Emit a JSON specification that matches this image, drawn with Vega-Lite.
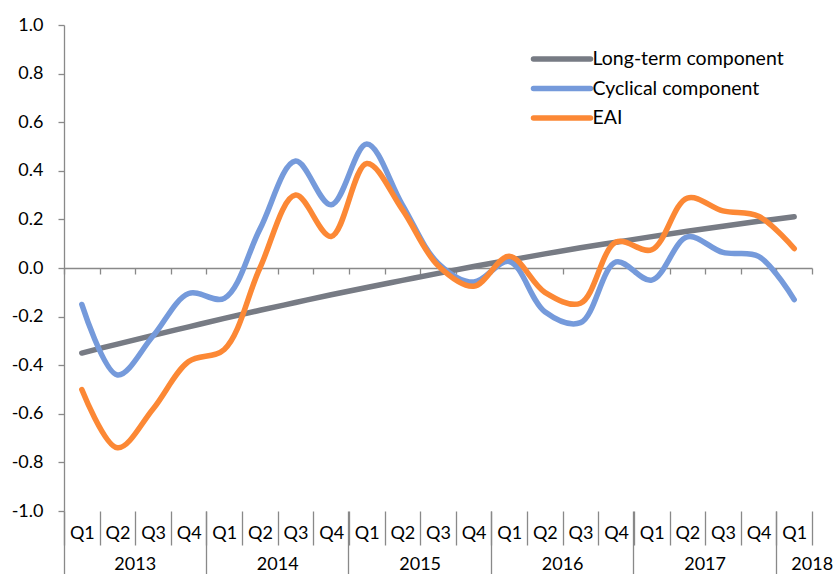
{
  "$schema": "https://vega.github.io/schema/vega-lite/v6.json",
  "width": 748,
  "height": 486,
  "autosize": {"type": "none"},
  "padding": {"left": 64, "top": 25, "right": 23, "bottom": 63},
  "background": "white",
  "config": {
    "view": {"stroke": null},
    "font": "Lato",
    "axis": {"labelFont": "Lato", "labelFontSize": 18, "labelColor": "#000000", "domainColor": "#898989", "tickColor": "#898989", "domainWidth": 1.3, "tickWidth": 1.3, "grid": false, "title": null, "labelAngle": 0}
  },
  "data": {
    "values": [
      {"quarter": "2013 Q1", "series": "Long-term component", "value": -0.350},
      {"quarter": "2013 Q2", "series": "Long-term component", "value": -0.313},
      {"quarter": "2013 Q3", "series": "Long-term component", "value": -0.277},
      {"quarter": "2013 Q4", "series": "Long-term component", "value": -0.242},
      {"quarter": "2014 Q1", "series": "Long-term component", "value": -0.207},
      {"quarter": "2014 Q2", "series": "Long-term component", "value": -0.174},
      {"quarter": "2014 Q3", "series": "Long-term component", "value": -0.142},
      {"quarter": "2014 Q4", "series": "Long-term component", "value": -0.110},
      {"quarter": "2015 Q1", "series": "Long-term component", "value": -0.080},
      {"quarter": "2015 Q2", "series": "Long-term component", "value": -0.051},
      {"quarter": "2015 Q3", "series": "Long-term component", "value": -0.022},
      {"quarter": "2015 Q4", "series": "Long-term component", "value": 0.006},
      {"quarter": "2016 Q1", "series": "Long-term component", "value": 0.032},
      {"quarter": "2016 Q2", "series": "Long-term component", "value": 0.058},
      {"quarter": "2016 Q3", "series": "Long-term component", "value": 0.083},
      {"quarter": "2016 Q4", "series": "Long-term component", "value": 0.106},
      {"quarter": "2017 Q1", "series": "Long-term component", "value": 0.129},
      {"quarter": "2017 Q2", "series": "Long-term component", "value": 0.151},
      {"quarter": "2017 Q3", "series": "Long-term component", "value": 0.172},
      {"quarter": "2017 Q4", "series": "Long-term component", "value": 0.192},
      {"quarter": "2018 Q1", "series": "Long-term component", "value": 0.211},
      {"quarter": "2013 Q1", "series": "Cyclical component", "value": -0.15},
      {"quarter": "2013 Q2", "series": "Cyclical component", "value": -0.44},
      {"quarter": "2013 Q3", "series": "Cyclical component", "value": -0.28},
      {"quarter": "2013 Q4", "series": "Cyclical component", "value": -0.105},
      {"quarter": "2014 Q1", "series": "Cyclical component", "value": -0.125},
      {"quarter": "2014 Q2", "series": "Cyclical component", "value": 0.16},
      {"quarter": "2014 Q3", "series": "Cyclical component", "value": 0.44},
      {"quarter": "2014 Q4", "series": "Cyclical component", "value": 0.26},
      {"quarter": "2015 Q1", "series": "Cyclical component", "value": 0.51},
      {"quarter": "2015 Q2", "series": "Cyclical component", "value": 0.26},
      {"quarter": "2015 Q3", "series": "Cyclical component", "value": 0.02},
      {"quarter": "2015 Q4", "series": "Cyclical component", "value": -0.058},
      {"quarter": "2016 Q1", "series": "Cyclical component", "value": 0.027},
      {"quarter": "2016 Q2", "series": "Cyclical component", "value": -0.18},
      {"quarter": "2016 Q3", "series": "Cyclical component", "value": -0.225},
      {"quarter": "2016 Q4", "series": "Cyclical component", "value": 0.025},
      {"quarter": "2017 Q1", "series": "Cyclical component", "value": -0.05},
      {"quarter": "2017 Q2", "series": "Cyclical component", "value": 0.128},
      {"quarter": "2017 Q3", "series": "Cyclical component", "value": 0.064},
      {"quarter": "2017 Q4", "series": "Cyclical component", "value": 0.048},
      {"quarter": "2018 Q1", "series": "Cyclical component", "value": -0.13},
      {"quarter": "2013 Q1", "series": "EAI", "value": -0.50},
      {"quarter": "2013 Q2", "series": "EAI", "value": -0.74},
      {"quarter": "2013 Q3", "series": "EAI", "value": -0.58},
      {"quarter": "2013 Q4", "series": "EAI", "value": -0.385},
      {"quarter": "2014 Q1", "series": "EAI", "value": -0.335},
      {"quarter": "2014 Q2", "series": "EAI", "value": 0.0},
      {"quarter": "2014 Q3", "series": "EAI", "value": 0.30},
      {"quarter": "2014 Q4", "series": "EAI", "value": 0.13},
      {"quarter": "2015 Q1", "series": "EAI", "value": 0.43},
      {"quarter": "2015 Q2", "series": "EAI", "value": 0.24},
      {"quarter": "2015 Q3", "series": "EAI", "value": 0.01},
      {"quarter": "2015 Q4", "series": "EAI", "value": -0.075},
      {"quarter": "2016 Q1", "series": "EAI", "value": 0.048},
      {"quarter": "2016 Q2", "series": "EAI", "value": -0.10},
      {"quarter": "2016 Q3", "series": "EAI", "value": -0.145},
      {"quarter": "2016 Q4", "series": "EAI", "value": 0.107},
      {"quarter": "2017 Q1", "series": "EAI", "value": 0.075},
      {"quarter": "2017 Q2", "series": "EAI", "value": 0.288},
      {"quarter": "2017 Q3", "series": "EAI", "value": 0.235},
      {"quarter": "2017 Q4", "series": "EAI", "value": 0.213},
      {"quarter": "2018 Q1", "series": "EAI", "value": 0.08}
    ]
  },
  "resolve": {"axis": {"x": "independent"}},
  "layer": [
    {
      "mark": {"type": "line", "opacity": 0},
      "encoding": {
        "x": {"field": "quarter", "type": "ordinal", "scale": {"type": "band", "paddingInner": 0, "paddingOuter": 0},
          "axis": {"orient": "bottom", "offset": -243, "labels": false, "tickBand": "extent", "tickSize": 6, "domain": true}},
        "y": {"field": "value", "type": "quantitative"},
        "detail": {"field": "series"}
      }
    },
    {
      "mark": {"type": "line", "opacity": 0},
      "encoding": {
        "x": {"field": "quarter", "type": "ordinal",
          "axis": {"orient": "bottom", "domain": false, "values": ["2013 Q1", "2014 Q1", "2015 Q1", "2016 Q1", "2017 Q1", "2018 Q1"],
            "bandPosition": 0, "tickExtra": false, "tickSize": 63, "labelPadding": -19, "labelLimit": 200,
            "labelExpr": "slice(datum.label, 0, 4)",
            "labelOffset": {"condition": {"test": "datum.value === '2018 Q1'", "value": 18}, "value": 53.4}}},
        "y": {"field": "value", "type": "quantitative"},
        "detail": {"field": "series"}
      }
    },
    {
      "mark": {"type": "line", "interpolate": "catmull-rom", "strokeWidth": 5.5, "strokeCap": "round", "strokeJoin": "round"},
      "encoding": {
        "x": {"field": "quarter", "type": "ordinal",
          "axis": {"orient": "bottom", "domain": false, "tickBand": "extent", "tickSize": 34, "labelPadding": -21,
            "labelExpr": "slice(datum.label, 5)"}},
        "y": {"field": "value", "type": "quantitative",
          "scale": {"domain": [-1, 1], "nice": false},
          "axis": {"values": [-1, -0.8, -0.6, -0.4, -0.2, 0, 0.2, 0.4, 0.6, 0.8, 1], "tickSize": 6, "labelPadding": 15,
            "labelExpr": "datum.value < 0 ? '-' + format(-datum.value, '.1f') : format(datum.value, '.1f')"}},
        "color": {"field": "series", "type": "nominal",
          "scale": {"domain": ["Long-term component", "Cyclical component", "EAI"], "range": ["#777B84", "#759ADB", "#FC8835"]},
          "legend": {"orient": "none", "legendX": 485, "legendY": 21, "title": null, "symbolType": "M-2.85,0H2.85", "symbolSize": 400,
            "symbolStrokeWidth": 5.5, "labelFontSize": 19.5, "labelFont": "Lato", "labelColor": "#000000", "labelOffset": 17.5, "rowPadding": 5.5, "labelLimit": 400,
            "encode": {"symbols": {"update": {"strokeCap": {"value": "round"}, "fill": {"value": "transparent"}}}}}}
      }
    }
  ]
}
